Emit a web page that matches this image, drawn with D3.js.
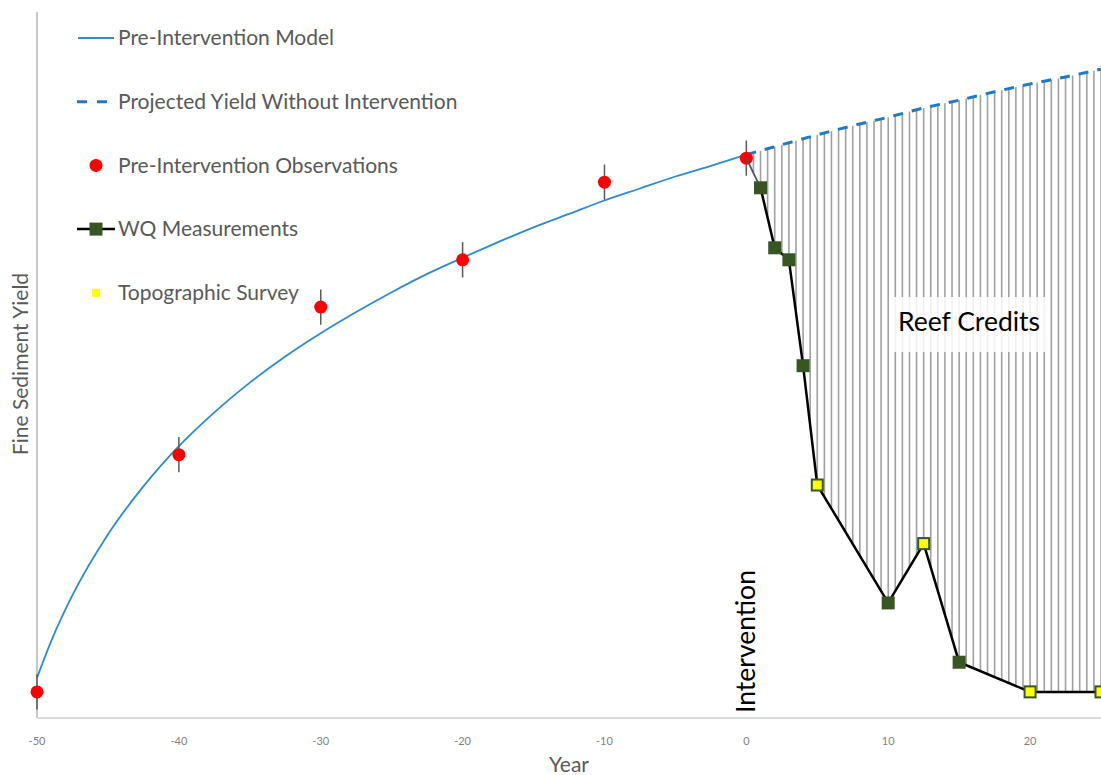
<!doctype html>
<html lang="en">
  <head>
    <meta charset="UTF-8" />
    <title>Reef Credits</title>
    <script src="https://unpkg.com/d3@7.9.0/dist/d3.min.js"></script>
    <style>
      body {
        margin: 0;
        overflow: hidden;
        background: #fff;
        font-family: Lato, 'Open Sans', sans-serif;
      }
      .tick-label {
        font-size: 11px;
        fill: #7f7f7f;
      }
      .axis-title {
        font-size: 21px;
        fill: #595959;
      }
      .legend text {
        font-size: 21px;
        fill: #595959;
      }
    </style>
  </head>
  <body>
    <svg width="1101" height="775"></svg>

    <script>
      // pre-intervention model curve (year, yield)
      const modelYears = [-50, -49, -47.5, -45, -42.5, -40, -37.5, -35, -32.5, -30, -27.5, -25,
        -22.5, -20, -17.5, -15, -12.5, -10, -7.5, -5, -2.5, 0];
      const modelValues = [5.7, 10.9, 17.4, 26.0, 32.8, 38.5, 43.3, 47.5, 51.2, 54.5, 57.5, 60.3,
        62.9, 65.2, 67.4, 69.5, 71.4, 73.3, 75.0, 76.7, 78.2, 79.8];

      // projected yield without intervention
      const projYears = [0, 2.5, 5, 7.5, 10, 12.5, 15, 17.5, 20, 22.5, 25];
      const projValues = [79.8, 81.2, 82.6, 83.9, 85.1, 86.4, 87.5, 88.7, 89.8, 90.8, 91.9];

      // pre-intervention observations
      const obsYears = [-50, -40, -30, -20, -10, 0];
      const obsValues = [3.7, 37.3, 58.2, 64.9, 75.9, 79.3];
      const obsError = 2.5;

      // WQ measurements
      const wqYears = [1, 2, 3, 4, 5, 10, 12.5, 15, 20, 25];
      const wqValues = [75.1, 66.6, 64.9, 49.9, 33.0, 16.3, 24.7, 7.9, 3.7, 3.7];

      // topographic survey
      const topoYears = [5, 12.5, 20, 25];
      const topoValues = [33.0, 24.7, 3.7, 3.7];

      const xTicks = [-50, -40, -30, -20, -10, 0, 10, 20];
      const legendLabels = [
        'Pre-Intervention Model',
        'Projected Yield Without Intervention',
        'Pre-Intervention Observations',
        'WQ Measurements',
        'Topographic Survey',
      ];

      const zip = (xs, ys) => xs.map((x, i) => ({ x: x, y: ys[i] }));
      const model = zip(modelYears, modelValues);
      const proj = zip(projYears, projValues);
      const obs = zip(obsYears, obsValues);
      const wq = zip(wqYears, wqValues);
      const topo = zip(topoYears, topoValues);

      const svg = d3.select('svg');
      const plot = { left: 37, right: 1101, top: 12, bottom: 718 };

      const x = d3.scaleLinear().domain([-50, 25]).range([plot.left, plot.right]);
      const y = d3.scaleLinear().domain([0, 100]).range([plot.bottom, plot.top]);

      const smooth = d3
        .line()
        .x((d) => x(d.x))
        .y((d) => y(d.y))
        .curve(d3.curveMonotoneX);
      const straight = d3
        .line()
        .x((d) => x(d.x))
        .y((d) => y(d.y));

      // clip region between projection and actual measurements
      const lowerEdge = [obs[obs.length - 1]].concat(wq).reverse();
      const clipD =
        smooth(proj) + straight(lowerEdge).replace(/^M/, 'L') + 'Z';
      svg
        .append('defs')
        .append('clipPath')
        .attr('id', 'credit-clip')
        .append('path')
        .attr('d', clipD);

      // axes
      svg
        .append('line')
        .attr('x1', plot.left)
        .attr('x2', plot.left)
        .attr('y1', plot.top)
        .attr('y2', plot.bottom)
        .attr('stroke', '#c8c8c8')
        .attr('stroke-width', 2);
      svg
        .append('line')
        .attr('x1', plot.left)
        .attr('x2', plot.right)
        .attr('y1', plot.bottom)
        .attr('y2', plot.bottom)
        .attr('stroke', '#d9d9d9')
        .attr('stroke-width', 2);

      svg
        .selectAll('.tick-label')
        .data(xTicks)
        .enter()
        .append('text')
        .attr('class', 'tick-label')
        .attr('x', (d) => x(d))
        .attr('y', 745)
        .attr('text-anchor', 'middle')
        .text((d) => d);

      svg
        .append('text')
        .attr('class', 'axis-title')
        .attr('x', (plot.left + plot.right) / 2)
        .attr('y', 772)
        .attr('text-anchor', 'middle')
        .text('Year');

      svg
        .append('text')
        .attr('class', 'axis-title')
        .attr('transform', 'translate(28,364) rotate(-90)')
        .attr('text-anchor', 'middle')
        .text('Fine Sediment Yield');

      // hatching for reef credits
      svg
        .append('g')
        .attr('clip-path', 'url(#credit-clip)')
        .selectAll('line')
        .data(d3.range(0.5, 25.01, 0.5))
        .enter()
        .append('line')
        .attr('x1', (d) => x(d))
        .attr('x2', (d) => x(d))
        .attr('y1', plot.top)
        .attr('y2', plot.bottom)
        .attr('stroke', '#a0a0a0')
        .attr('stroke-width', 1.6);

      // model & projection
      svg
        .append('path')
        .attr('d', smooth(model))
        .attr('fill', 'none')
        .attr('stroke', '#2e8ad8')
        .attr('stroke-width', 1.8);
      svg
        .append('path')
        .attr('d', smooth(proj))
        .attr('fill', 'none')
        .attr('stroke', '#1f78c8')
        .attr('stroke-width', 3)
        .attr('stroke-dasharray', '10,9');

      // observations with error bars
      svg
        .selectAll('.err')
        .data(obs)
        .enter()
        .append('line')
        .attr('class', 'err')
        .attr('x1', (d) => x(d.x))
        .attr('x2', (d) => x(d.x))
        .attr('y1', (d) => y(d.y - obsError))
        .attr('y2', (d) => y(d.y + obsError))
        .attr('stroke', '#595959')
        .attr('stroke-width', 1.5);
      svg
        .selectAll('.obs')
        .data(obs)
        .enter()
        .append('circle')
        .attr('class', 'obs')
        .attr('cx', (d) => x(d.x))
        .attr('cy', (d) => y(d.y))
        .attr('r', 6.5)
        .attr('fill', '#ff0000');

      // connector from last observation to first measurement
      svg
        .append('path')
        .attr('d', straight([obs[obs.length - 1], wq[0]]))
        .attr('fill', 'none')
        .attr('stroke', '#44546a')
        .attr('stroke-width', 1.8);

      // WQ measurements
      svg
        .append('path')
        .attr('d', straight(wq))
        .attr('fill', 'none')
        .attr('stroke', '#000')
        .attr('stroke-width', 2.5);
      svg
        .selectAll('.wq')
        .data(wq)
        .enter()
        .append('rect')
        .attr('class', 'wq')
        .attr('x', (d) => x(d.x) - 6.5)
        .attr('y', (d) => y(d.y) - 6.5)
        .attr('width', 13)
        .attr('height', 13)
        .attr('fill', '#375623');
      svg
        .selectAll('.topo')
        .data(topo)
        .enter()
        .append('rect')
        .attr('class', 'topo')
        .attr('x', (d) => x(d.x) - 4.5)
        .attr('y', (d) => y(d.y) - 4.5)
        .attr('width', 9)
        .attr('height', 9)
        .attr('fill', '#ffff00');

      // annotations
      svg
        .append('rect')
        .attr('x', 889)
        .attr('y', 297)
        .attr('width', 156)
        .attr('height', 55)
        .attr('fill', '#fff')
        .attr('opacity', 0.85);
      svg
        .append('text')
        .attr('x', 898)
        .attr('y', 331)
        .style('font-size', '26.5px')
        .attr('fill', '#000')
        .text('Reef Credits');

      svg
        .append('text')
        .attr('transform', `translate(${x(0) + 9},713) rotate(-90)`)
        .style('font-size', '26.5px')
        .attr('fill', '#000')
        .text('Intervention');

      // legend
      const legend = svg
        .append('g')
        .attr('class', 'legend')
        .selectAll('g')
        .data(legendLabels)
        .enter()
        .append('g')
        .attr('transform', (d, i) => `translate(0,${38 + i * 63.7})`);

      legend
        .append('text')
        .attr('x', 118)
        .attr('dy', '0.35em')
        .text((d) => d);

      const items = legend.nodes().map((n) => d3.select(n));
      items[0]
        .append('line')
        .attr('x1', 78)
        .attr('x2', 114)
        .attr('stroke', '#2e8ad8')
        .attr('stroke-width', 1.8);
      items[1]
        .append('line')
        .attr('x1', 77)
        .attr('x2', 107)
        .attr('stroke', '#1f78c8')
        .attr('stroke-width', 3)
        .attr('stroke-dasharray', '10,10');
      items[2]
        .append('circle')
        .attr('cx', 96)
        .attr('r', 6.5)
        .attr('fill', '#ff0000');
      items[3]
        .append('line')
        .attr('x1', 77)
        .attr('x2', 115)
        .attr('stroke', '#000')
        .attr('stroke-width', 2.5);
      items[3]
        .append('rect')
        .attr('x', 89.5)
        .attr('y', -6.5)
        .attr('width', 13)
        .attr('height', 13)
        .attr('fill', '#375623');
      items[4]
        .append('rect')
        .attr('x', 92)
        .attr('y', -4)
        .attr('width', 8)
        .attr('height', 8)
        .attr('fill', '#ffff00');
    </script>
  </body>
</html>
